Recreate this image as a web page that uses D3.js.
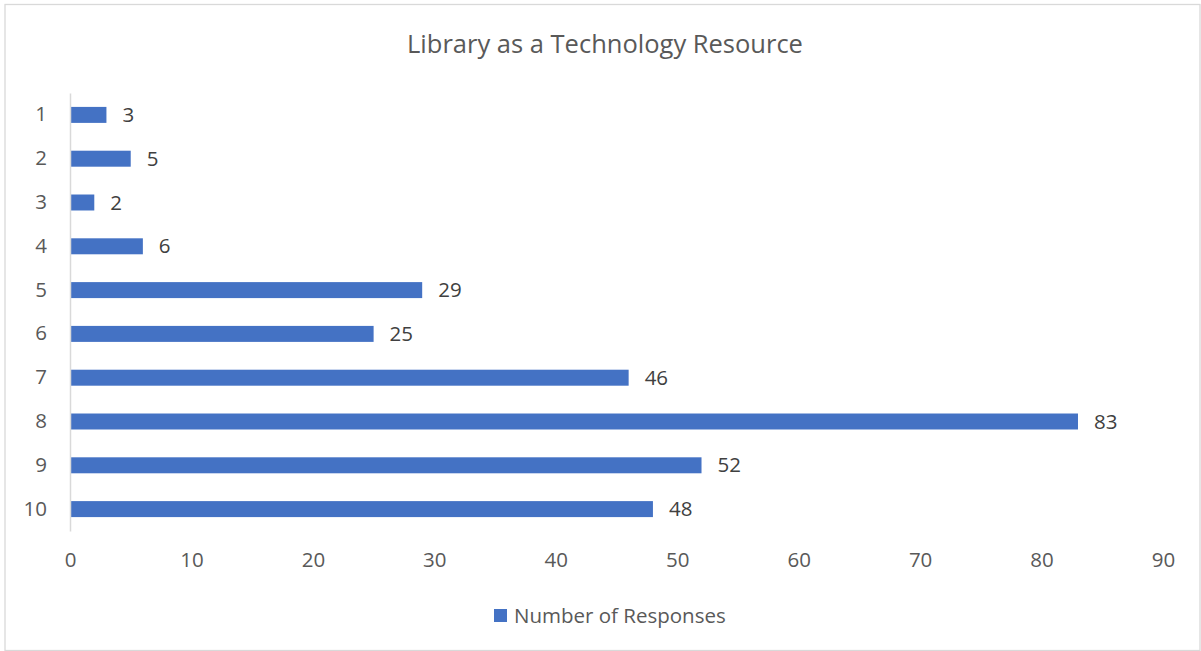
<!DOCTYPE html>
<html><head><meta charset="utf-8">
<script src="https://cdn.jsdelivr.net/npm/d3@7"></script>
<style>body{margin:0;background:#fff;} svg{display:block;}</style>
</head><body>
<svg id="chart" width="1201" height="651"></svg>
<script>
const categories = ["1","2","3","4","5","6","7","8","9","10"];
const responses = [3,5,2,6,29,25,46,83,52,48];
const xTicks = [0,10,20,30,40,50,60,70,80,90];
const chartTitle = "Library as a Technology Resource";
const seriesName = "Number of Responses";

const svg = d3.select("#chart");
const font = "'Open Sans', sans-serif";
const m = {left:70, right:1163, top:93, bottom:531};

svg.append("rect").attr("x",5).attr("y",4.5).attr("width",1195).attr("height",646)
  .attr("fill","#fff").attr("stroke","#d9d9d9").attr("stroke-width",1.3);

const x = d3.scaleLinear().domain([0,90]).range([m.left,m.right]);
const y = d3.scaleBand().domain(categories).range([m.top,m.bottom]).paddingInner(0.635).paddingOuter(0.3175);

svg.append("text").attr("x",605).attr("y",44).attr("dy","0.35em").attr("text-anchor","middle")
  .attr("font-family",font).attr("font-size",25.5).attr("fill","#595959").text(chartTitle);

svg.selectAll("rect.bar").data(responses).join("rect").attr("class","bar")
  .attr("x",x(0)).attr("y",(d,i)=>y(categories[i])).attr("width",d=>x(d)-x(0))
  .attr("height",y.bandwidth()).attr("fill","#4472C4");

svg.selectAll("text.val").data(responses).join("text").attr("class","val")
  .attr("x",d=>x(d)+16).attr("y",(d,i)=>y(categories[i])+y.bandwidth()/2).attr("dy","0.35em")
  .attr("font-family",font).attr("font-size",20.5).attr("fill","#404040").text(d=>d);

// y axis
const yAxis = svg.append("g").attr("transform",`translate(${m.left},0)`)
  .call(d3.axisLeft(y).tickSize(0).tickPadding(23));
yAxis.select(".domain").attr("stroke","#d9d9d9").attr("stroke-width",1.5);
yAxis.selectAll("text").attr("font-family",font).attr("font-size",20.5).attr("fill","#595959");

// x axis
const xAxis = svg.append("g").attr("transform",`translate(0,${m.bottom})`)
  .call(d3.axisBottom(x).tickValues(xTicks).tickSize(0).tickPadding(21));
xAxis.select(".domain").remove();
xAxis.selectAll("text").attr("font-family",font).attr("font-size",20.5).attr("fill","#595959");

// legend
const lg = svg.append("g");
lg.append("rect").attr("x",494).attr("y",609).attr("width",13).attr("height",13).attr("fill","#4472C4");
lg.append("text").attr("x",514).attr("y",615.5).attr("dy","0.35em").attr("font-family",font)
  .attr("font-size",20.5).attr("fill","#595959").text(seriesName);
</script>
</body></html>
